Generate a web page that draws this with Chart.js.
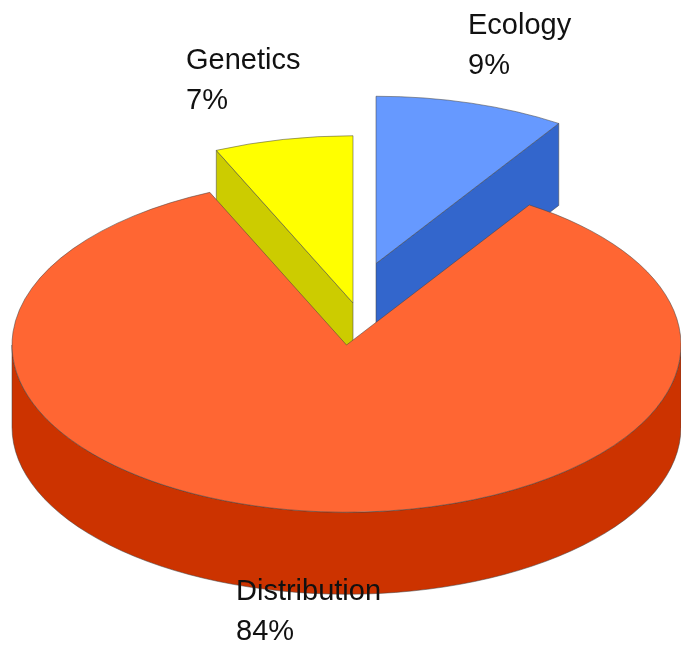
<!DOCTYPE html>
<html>
<head>
<meta charset="utf-8">
<title>Pie</title>
<script src="https://cdn.jsdelivr.net/npm/chart.js@4"></script>
<style>
html, body { margin: 0; padding: 0; background: #fff; }
canvas { display: block; }
</style>
</head>
<body>
<canvas id="pie3d" width="681" height="648"></canvas>
<script>
const categories = ['Ecology', 'Distribution', 'Genetics'];
const shares = [9.2, 84.1, 6.7];
const shareLabels = ['9%', '84%', '7%'];
const topColors = ['#6699ff', '#ff6633', '#ffff00'];
const wallColors = ['#3366cc', '#cc3300', '#cccc00'];

// how far each slice is pulled out, in unsquashed pie units
const pullX = [29.5, 0, 6.5];
const pullY = [-163, 0, -84];
const labelSpots = [[468, 34], [236, 600], [186, 69]];

const centerX = 346.5;
const centerY = 345;
const squash = 0.5;
const depth = 164;
const edgeColor = '#444';

const pie3d = {
    id: 'pie3d',
    afterDatasetsUpdate(chart) {
        chart.getDatasetMeta(0).data.forEach((arc, i) => {
            arc.x += pullX[i];
            arc.y += pullY[i];
        });
    },
    beforeDatasetsDraw(chart) {
        const ctx = chart.ctx;
        const area = chart.chartArea;
        ctx.save();
        // tilt the flat pie, the walls get drawn under the top faces
        ctx.translate(centerX, centerY);
        ctx.scale(1, squash);
        ctx.translate(-(area.left + area.right) / 2, -(area.top + area.bottom) / 2);
        ctx.lineWidth = 0.7;
        ctx.strokeStyle = edgeColor;
        chart.getDatasetMeta(0).data.forEach((arc, i) => {
            ctx.fillStyle = wallColors[i];
            if (Math.cos(arc.startAngle) < -0.01) radialWall(ctx, arc, arc.startAngle);
            if (Math.cos(arc.endAngle) > 0.01) radialWall(ctx, arc, arc.endAngle);
            const from = Math.max(arc.startAngle, 0);
            const to = Math.min(arc.endAngle, Math.PI);
            if (to > from) {
                ctx.beginPath();
                ctx.arc(arc.x, arc.y, arc.outerRadius, from, to);
                ctx.arc(arc.x, arc.y + depth, arc.outerRadius, to, from, true);
                ctx.closePath();
                ctx.fill();
                ctx.stroke();
            }
        });
    },
    afterDatasetsDraw(chart) {
        chart.ctx.restore();
    },
    afterDraw(chart) {
        const ctx = chart.ctx;
        ctx.save();
        ctx.font = '29px "Liberation Sans", sans-serif';
        ctx.fillStyle = '#111';
        ctx.textAlign = 'left';
        categories.forEach((name, i) => {
            ctx.fillText(name, labelSpots[i][0], labelSpots[i][1]);
            ctx.fillText(shareLabels[i], labelSpots[i][0], labelSpots[i][1] + 40);
        });
        ctx.restore();
    }
};

function radialWall(ctx, arc, angle) {
    const rimX = arc.x + Math.cos(angle) * arc.outerRadius;
    const rimY = arc.y + Math.sin(angle) * arc.outerRadius;
    ctx.beginPath();
    ctx.moveTo(arc.x, arc.y);
    ctx.lineTo(rimX, rimY);
    ctx.lineTo(rimX, rimY + depth);
    ctx.lineTo(arc.x, arc.y + depth);
    ctx.closePath();
    ctx.fill();
    ctx.stroke();
}

new Chart(document.getElementById('pie3d'), {
    type: 'pie',
    data: {
        labels: categories,
        datasets: [{
            data: shares,
            backgroundColor: topColors,
            borderColor: edgeColor,
            borderWidth: 0.7,
            clip: false
        }]
    },
    options: {
        responsive: false,
        animation: false,
        radius: 334.5,
        layout: { padding: 0 },
        plugins: {
            legend: { display: false },
            tooltip: { enabled: false }
        }
    },
    plugins: [pie3d]
});
</script>
</body>
</html>
